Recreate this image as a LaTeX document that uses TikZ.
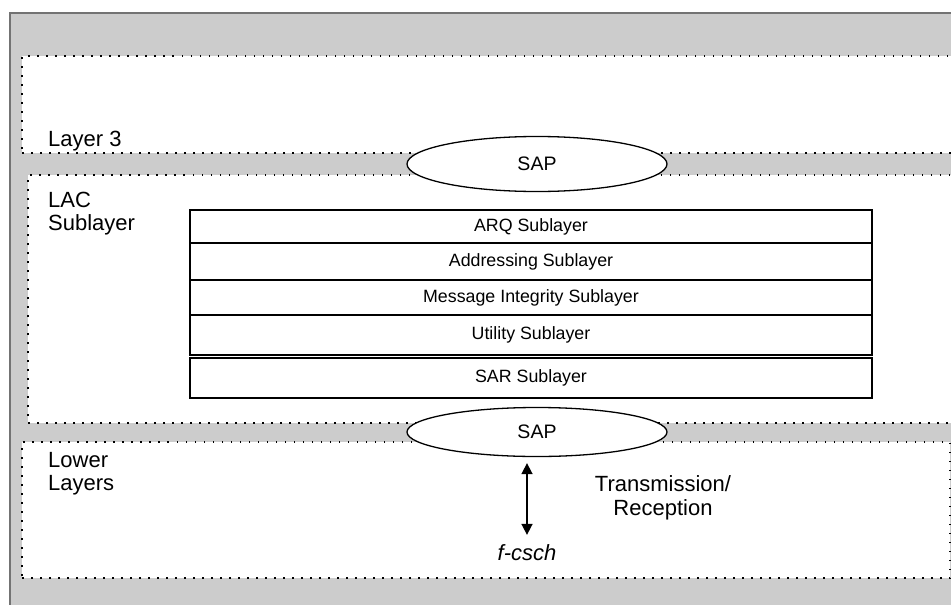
\documentclass[tikz,border=0pt]{standalone}
\usepackage{fontspec}
\setmainfont{Liberation Sans}
\usetikzlibrary{positioning, arrows.meta, shapes.geometric}

\begin{document}
\begin{tikzpicture}[x=1pt, y=-1pt,
    layerbox/.style={draw, fill=white, dash pattern=on 1.5pt off 7.5pt, line width=1.2pt, anchor=north west, inner sep=0pt, outer sep=0pt},
    sub/.style={draw, line width=1.3pt, minimum width=682pt, inner sep=0pt, outer sep=0pt, font=\fontsize{17.8}{20}\selectfont},
    sap/.style={ellipse, draw, fill=white, line width=1.3pt, minimum width=260pt, inner sep=0pt, font=\fontsize{19.5}{22}\selectfont},
    lbl/.style={align=left, inner sep=0pt, anchor=north west, font=\fontsize{22}{23}\selectfont},
    arr/.style={{Triangle[length=11pt,width=11pt]}-{Triangle[length=11pt,width=11pt]}, line width=1.6pt}
]
\useasboundingbox (0,0) rectangle (951,605);
\clip (0,0) rectangle (951,605);

% grey frame
\fill[black!20] (10,13) rectangle (970,620);
\draw[black!55, line width=1.5pt] (10,620) -- (10,13) -- (970,13);

% layers
\node[layerbox, minimum width=950pt, minimum height=97pt] (layer3) at (22,56) {};
\node[layerbox, minimum width=940pt, minimum height=248pt] (lac) at (28,175) {};
\node[layerbox, minimum width=928pt, minimum height=136pt] (lower) at (22,442) {};

\node[lbl] (l3lbl) at (48,131) {Layer 3};
\node[lbl] (laclbl) at (48,192) {LAC\\Sublayer};
\node[lbl] (lowlbl) at (48,452) {Lower\\Layers};

% sublayer stack
\node[sub, minimum height=33pt, anchor=north west] (arq) at (190,210) {ARQ Sublayer};
\node[sub, minimum height=37pt, below=0pt of arq] (addr) {Addressing Sublayer};
\node[sub, minimum height=35pt, below=0pt of addr] (integ) {Message Integrity Sublayer};
\node[sub, minimum height=40pt, below=0pt of integ] (util) {Utility Sublayer};
\node[sub, minimum height=40pt, below=3pt of util] (sar) {SAR Sublayer};

% service access points
\node[sap, minimum height=55pt] (sapup) at (537,164) {SAP};
\node[sap, minimum height=49pt] (sapdown) at (537,432) {SAP};

% physical channel
\node[font=\fontsize{22}{23}\selectfont\itshape, anchor=base, inner sep=2pt] (fcsch) at (527,560) {f-csch};
\node[font=\fontsize{22}{24}\selectfont, align=center] (txrx) at (663,498) {Transmission/\\Reception};
\draw[arr, shorten <=6pt, shorten >=7pt] (sapdown.south -| fcsch.north) -- (fcsch.north);
\end{tikzpicture}
\end{document}
